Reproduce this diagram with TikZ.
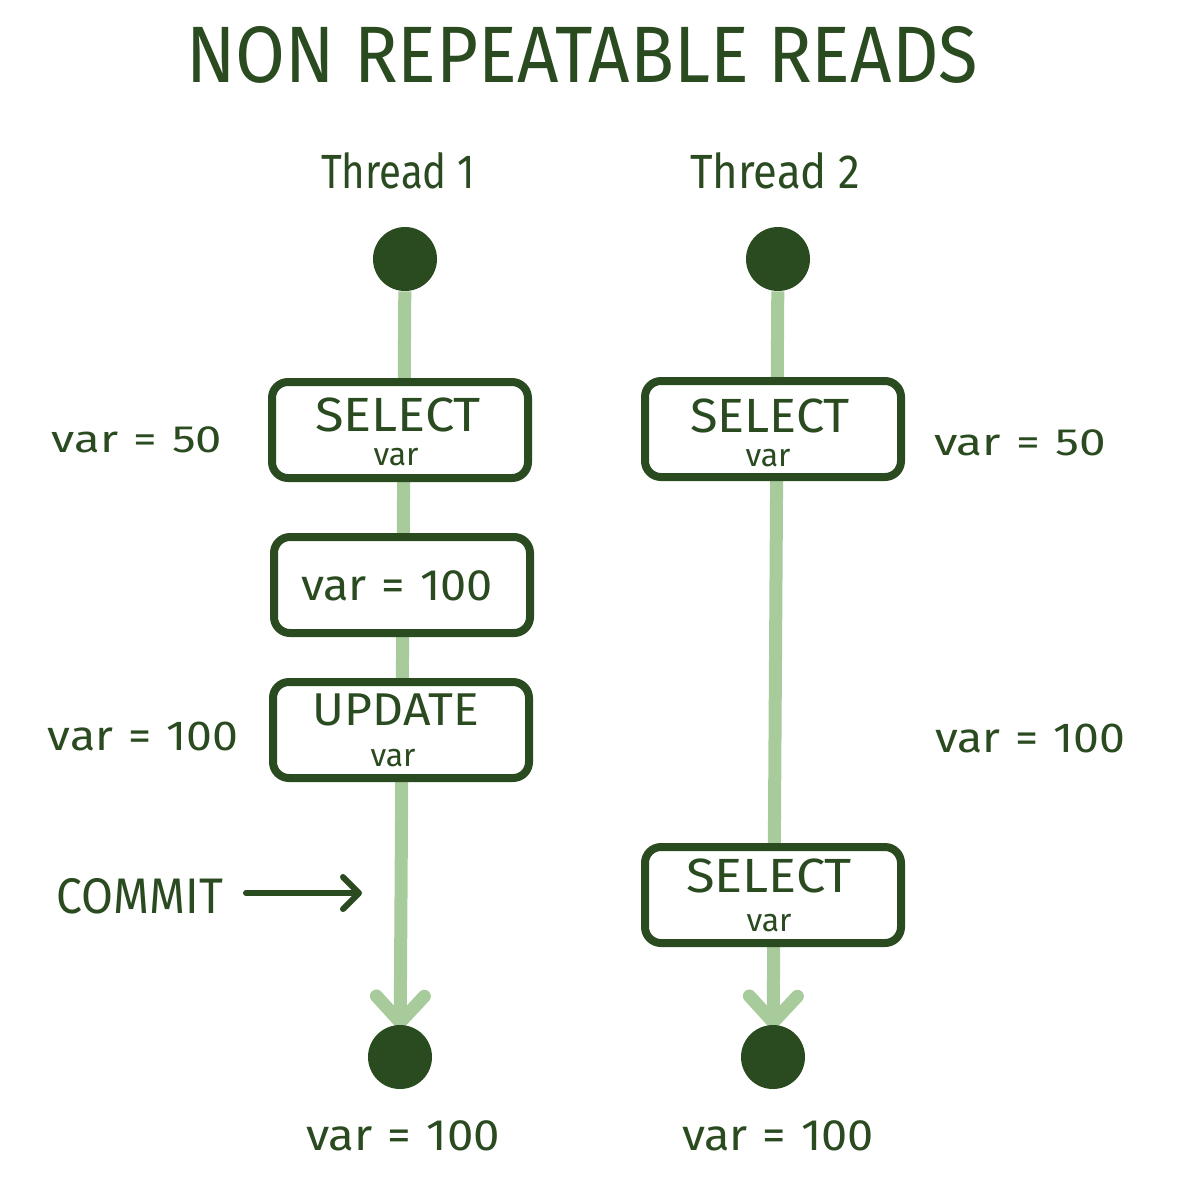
\documentclass[tikz,border=0pt]{standalone}
\usepackage{fontspec}
\usepackage{graphicx}
\setmainfont{Fira Sans}
\usetikzlibrary{arrows.meta,backgrounds}
\definecolor{dk}{HTML}{2A4A20}
\definecolor{lt}{HTML}{A8CB9C}
\newcommand\fitw[2]{\resizebox{#1}{\height}{#2}}
\newcommand\sz[1]{\fontsize{#1}{#1}\selectfont}
\newcommand\gap{\hspace{0.32em}}
\tikzset{
  box/.style={draw=dk, line width=4pt, rounded corners=8pt, fill=white,
              minimum width=128pt, minimum height=48pt, inner sep=0pt},
  dot/.style={circle, fill=dk, minimum size=32pt, inner sep=0pt},
  txt/.style={text=dk, anchor=base, inner sep=0pt},
  thread/.style={draw=lt, line width=6.5pt, shorten >=-2pt,
                 -{Straight Barb[length=13pt,width=24pt,round]}},
  commitarrow/.style={draw=dk, line width=3pt, line cap=round,
                 -{Straight Barb[length=8pt,width=16pt,round]}},
}
\begin{document}
\begin{tikzpicture}[x=0.5pt,y=-0.5pt]
\useasboundingbox (0,0) rectangle (1204,1180);

% title and headers
\node[txt] (title) at (582,82) {\sz{40}\fitw{396pt}{NON REPEATABLE READS}};
\node[txt] (h1) at (398,188) {\sz{24}\fitw{77pt}{Thread 1}};
\node[txt] (h2) at (775,188) {\sz{24}\fitw{85pt}{Thread 2}};

% start / end dots
\node[dot] (s1) at (405,259) {};
\node[dot] (e1) at (400,1057) {};
\node[dot] (s2) at (778,259) {};
\node[dot] (e2) at (773,1057) {};

% boxes thread 1
\node[box] (b1) at (400,430) {};
\node[box] (b2) at (402,585) {};
\node[box] (b3) at (401,730) {};
% boxes thread 2
\node[box] (b4) at (773,429) {};
\node[box] (b5) at (773,895) {};

% box texts
\node[txt] (b1a) at (398,431) {\sz{24}\fitw{83pt}{SELECT}};
\node[txt] (b1b) at (396,465) {\sz{16}var};
\node[txt] (b2a) at (397,600) {\sz{22}\fitw{96pt}{var\gap=\gap100}};
\node[txt] (b3a) at (396,725) {\sz{23}\fitw{83pt}{UPDATE}};
\node[txt] (b3b) at (393,766) {\sz{16}var};
\node[txt] (b4a) at (770,432) {\sz{24}\fitw{80pt}{SELECT}};
\node[txt] (b4b) at (768,466) {\sz{16}var};
\node[txt] (b5a) at (769,892) {\sz{24}\fitw{83pt}{SELECT}};
\node[txt] (b5b) at (769,931) {\sz{16}var};

% side labels
\node[txt] (l1) at (137,452) {\sz{19}\fitw{85pt}{var\gap=\gap50}};
\node[txt] (l2) at (143,750) {\sz{21}\fitw{95pt}{var\gap=\gap100}};
\node[txt] (r1) at (1020,455) {\sz{19}\fitw{86pt}{var\gap=\gap50}};
\node[txt] (r2) at (1030,752) {\sz{21}\fitw{95pt}{var\gap=\gap100}};
\node[txt] (c1) at (140,913) {\sz{25}\fitw{83pt}{COMMIT}};
\node[txt] (f1) at (403,1150) {\sz{22}\fitw{97pt}{var\gap=\gap100}};
\node[txt] (f2) at (778,1150) {\sz{22}\fitw{96pt}{var\gap=\gap100}};

% commit arrow
\coordinate (ca) at (246,893);
\coordinate (cb) at (362,893);
\draw[commitarrow] (ca) -- (cb);

% white page and thread lines behind everything
\begin{scope}[on background layer]
  \fill[white] (0,0) rectangle (1204,1180);
  \draw[thread] (s1) -- (e1);
  \draw[thread] (s2) -- (e2);
\end{scope}
\end{tikzpicture}
\end{document}
